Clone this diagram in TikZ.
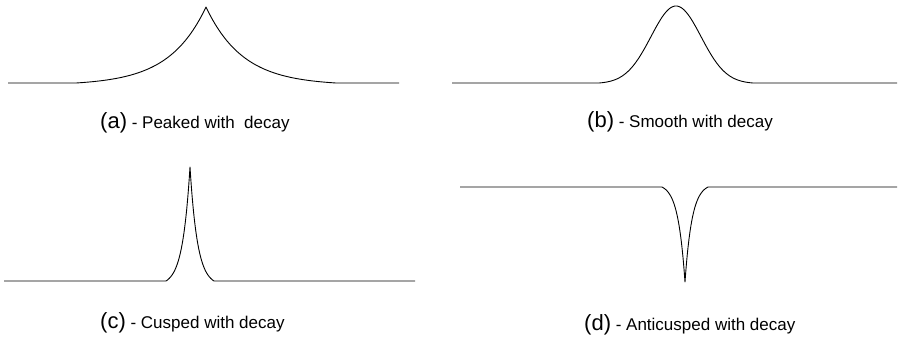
\documentclass[tikz,border=0pt]{standalone}
\usepackage{fontspec}
\setmainfont{Liberation Sans}
\newcommand{\lettersize}{\fontsize{22}{26}\selectfont}
\begin{document}
\begin{tikzpicture}[x=1pt, y=-1pt,
  curve/.style={draw=black, line width=0.9pt, line join=round},
  lbl/.style={anchor=base west, inner sep=0pt, font=\fontsize{17}{20}\selectfont}]
  \useasboundingbox (0,0) rectangle (898,338);

  \coordinate (peaka) at (206,7);
  \coordinate (peakb) at (676,6);
  \coordinate (peakc) at (190,167);
  \coordinate (dipd) at (685,282);

  \draw[curve] (8,83) -- (76,83)
    -- plot[domain=-130:0, samples=80] ({206+\x}, {83-76*(exp(\x/37)-exp(-130/37))/(1-exp(-130/37))})
    -- plot[domain=0:130, samples=80] ({206+\x}, {83-76*(exp(-\x/37)-exp(-130/37))/(1-exp(-130/37))})
    -- (399,83);

  \draw[curve] (452,83) -- (599,83)
    -- plot[domain=-77:77, samples=120] ({676+\x}, {83-77*(exp(-(\x)*(\x)/1250)-exp(-5929/1250))/(1-exp(-5929/1250))})
    -- (897,83);

  \draw[curve] (4,281) -- (166,281)
    -- plot[domain=-24:0, samples=60] ({190+\x}, {281-114*(exp(\x/7.5)-exp(-24/7.5))/(1-exp(-24/7.5))})
    -- plot[domain=0:24, samples=60] ({190+\x}, {281-114*(exp(-\x/7.5)-exp(-24/7.5))/(1-exp(-24/7.5))})
    -- (415,281);

  \draw[curve] (460,187) -- (662,187)
    -- plot[domain=-23:0, samples=60] ({685+\x}, {187+95*(exp(\x/7)-exp(-23/7))/(1-exp(-23/7))})
    -- plot[domain=0:23, samples=60] ({685+\x}, {187+95*(exp(-\x/7)-exp(-23/7))/(1-exp(-23/7))})
    -- (897,187);

  \node[lbl] (labela) at (100,128) {{\lettersize(a)} - Peaked with\ \ decay};
  \node[lbl] (labelb) at (587,127) {{\lettersize(b)} - Smooth with decay};
  \node[lbl] (labelc) at (100,328) {{\lettersize(c)} - Cusped with decay};
  \node[lbl] (labeld) at (584,330) {{\lettersize(d)} - Anticusped with decay};
\end{tikzpicture}
\end{document}
